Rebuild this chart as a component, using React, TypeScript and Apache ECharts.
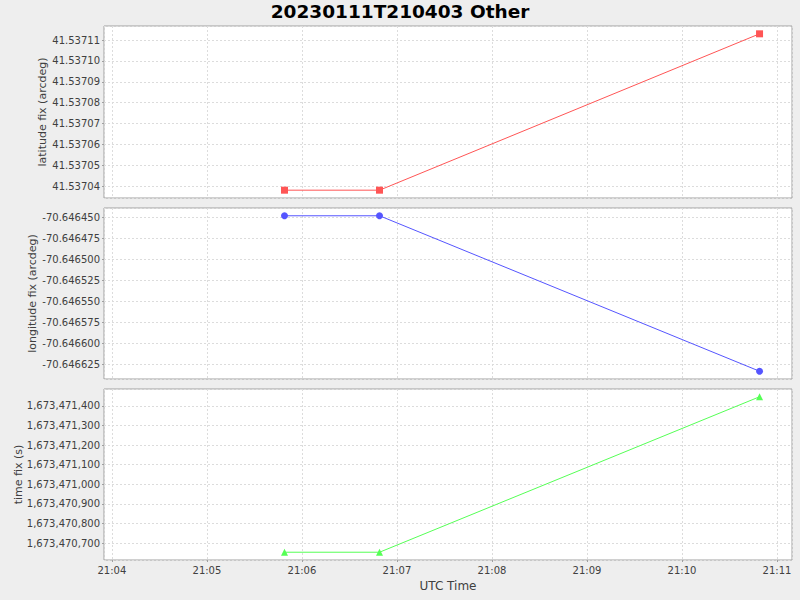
import { useEffect, useRef } from "react";
import * as echarts from "echarts";

const TITLE = "20230111T210403 Other";
const X_NAME = "UTC Time";
const fixTimes = ["2023-01-11T21:05:49Z", "2023-01-11T21:06:49Z", "2023-01-11T21:10:49Z"];
const latitudeFix = [41.5370381, 41.5370381, 41.537113];
const longitudeFix = [-70.6464481, -70.6464481, -70.6466333];
const timeFix = [1673470654, 1673470654, 1673471446];
const xRange = ["2023-01-11T21:03:55Z", "2023-01-11T21:11:09.5Z"];
const yNames = ["latitude fix (arcdeg)", "longitude fix (arcdeg)", "time fix (s)"];
const yIntervals = [1e-5, 2.5e-5, 100];
const seriesColors = ["#ff5555", "#5555ff", "#55ff55"];
const seriesSymbols = ["rect", "circle", "triangle"];

const FONT = "DejaVu Sans";

function autoRange(vals: number[]): [number, number] {
  const lo = Math.min(...vals);
  const hi = Math.max(...vals);
  const span = hi - lo;
  return [lo - 0.05 * span, hi + 0.05 * span];
}

const pad2 = (n: number) => (n < 10 ? "0" + n : "" + n);

export default function App() {
  const ref = useRef<HTMLDivElement>(null);
  useEffect(() => {
    if (!ref.current) return;
    const chart = echarts.init(ref.current, undefined, { renderer: "svg" });
    const values = [latitudeFix, longitudeFix, timeFix];
    const formatters = [
      (v: number) => v.toFixed(5),
      (v: number) => v.toFixed(6),
      (v: number) => Math.round(v).toLocaleString("en-US"),
    ];
    const tops = [26, 208, 389];
    const heights = [172, 171, 171];
    const nameGaps = [56, 66, 80];
    const xMin = Date.parse(xRange[0]);
    const xMax = Date.parse(xRange[1]);
    const xs = fixTimes.map((t) => Date.parse(t));

    const grid = tops.map((t, i) => ({
      left: 104,
      right: 8,
      top: t,
      height: heights[i],
      show: true,
      backgroundColor: "#ffffff",
      borderColor: "#a0a0a0",
      borderWidth: 1,
    }));

    const xAxis = tops.map((_, i) => ({
      type: "value",
      gridIndex: i,
      min: xMin,
      max: xMax,
      minInterval: 60000,
      maxInterval: 60000,
      name: i === 2 ? X_NAME : "",
      nameLocation: "middle",
      nameGap: 20,
      nameMoveOverlap: false,
      nameTextStyle: { fontFamily: FONT, fontSize: 12, color: "#404040" },
      axisLine: { show: false },
      axisTick: { show: i === 2, length: 2, lineStyle: { color: "#a0a0a0" } },
      axisLabel: {
        show: i === 2,
        margin: 5,
        fontFamily: FONT,
        fontSize: 10,
        color: "#404040",
        showMinLabel: false,
        showMaxLabel: false,
        formatter: (v: number) => {
          const d = new Date(v);
          return pad2(d.getUTCHours()) + ":" + pad2(d.getUTCMinutes());
        },
      },
      splitLine: { show: true, lineStyle: { color: "#dcdcdc", type: [2, 2], width: 1 } },
    }));

    const yAxis = values.map((vals, i) => {
      const [mn, mx] = autoRange(vals);
      return {
        type: "value",
        gridIndex: i,
        min: mn,
        max: mx,
        minInterval: yIntervals[i],
        maxInterval: yIntervals[i],
        name: yNames[i],
        nameLocation: "middle",
        nameGap: nameGaps[i],
        nameMoveOverlap: false,
        nameTextStyle: { fontFamily: FONT, fontSize: 11, color: "#404040" },
        axisLine: { show: false },
        axisTick: { show: true, length: 2, lineStyle: { color: "#a0a0a0" } },
        axisLabel: {
          margin: 4,
          fontFamily: FONT,
          fontSize: 10,
          color: "#404040",
          showMinLabel: false,
          showMaxLabel: false,
          formatter: formatters[i],
        },
        splitLine: { show: true, lineStyle: { color: "#dcdcdc", type: [2, 2], width: 1 } },
      };
    });

    const series = values.map((vals, i) => ({
      type: "line",
      xAxisIndex: i,
      yAxisIndex: i,
      data: vals.map((v, j) => [xs[j], v]),
      symbol: seriesSymbols[i],
      symbolSize: 7,
      showSymbol: true,
      color: seriesColors[i],
      itemStyle: { color: seriesColors[i] },
      lineStyle: { color: seriesColors[i], width: 1 },
    }));

    chart.setOption({
      animation: false,
      backgroundColor: "#eeeeee",
      title: {
        text: TITLE,
        left: "center",
        top: 2,
        padding: 0,
        textStyle: { fontFamily: FONT, fontSize: 18.5, fontWeight: "bold", color: "#000000" },
      },
      grid,
      xAxis,
      yAxis,
      series,
    } as any);
    return () => chart.dispose();
  }, []);
  return (
    <div
      ref={ref}
      style={{ position: "fixed", left: 0, top: 0, width: 800, height: 600 }}
    />
  );
}
